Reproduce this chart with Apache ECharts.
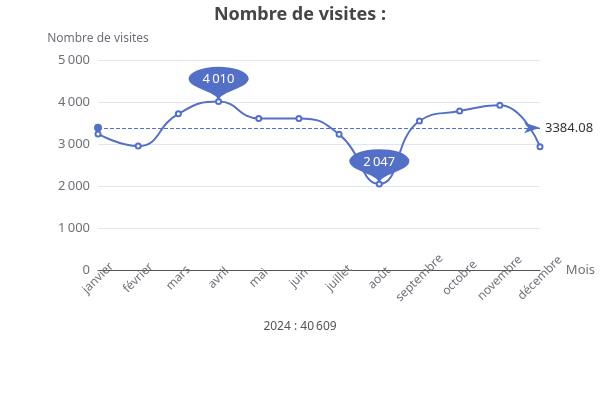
<!DOCTYPE html>
<html>
<head>
<meta charset="utf-8">
<script src="https://cdn.jsdelivr.net/npm/echarts@6/dist/echarts.min.js"></script>
<style>html,body{margin:0;padding:0;background:#fff}#c{width:600px;height:400px}</style>
</head>
<body>
<div id="c"></div>
<script>
const months = ['janvier','février','mars','avril','mai','juin','juillet','août','septembre','octobre','novembre','décembre'];
const visits = [3240, 2950, 3720, 4010, 3610, 3610, 3230, 2047, 3548, 3786, 3921, 2937];
const yearLabel = '2024';
const yTicks = {min: 0, max: 5000, interval: 1000};

const fr = v => Number(v).toLocaleString('fr-FR');
const total = visits.reduce((a, b) => a + b, 0);
const FONT = 'Noto Sans';

const chart = echarts.init(document.getElementById('c'));
chart.setOption({
  animation: false,
  textStyle: {fontFamily: FONT},
  title: [
    {text: 'Nombre de visites :', left: 'center', top: 1,
     textStyle: {fontSize: 18, fontWeight: 'bold', color: '#464646', fontFamily: FONT}},
    {text: yearLabel + ' : ' + fr(total), left: 'center', top: 316,
     textStyle: {fontSize: 12, fontWeight: 'normal', color: '#555', fontFamily: FONT}}
  ],
  grid: {left: 98, right: 60, top: 60, bottom: 130},
  xAxis: {
    type: 'category', data: months, boundaryGap: false, name: 'Mois',
    nameTextStyle: {fontSize: 13, color: '#6e7079'},
    axisTick: {show: false},
    axisLabel: {rotate: 45, align: 'center', verticalAlign: 'middle', margin: 8, fontSize: 12, color: '#6e7079', interval: 0}
  },
  yAxis: {
    type: 'value', min: yTicks.min, max: yTicks.max, interval: yTicks.interval,
    name: 'Nombre de visites',
    nameTextStyle: {fontSize: 12, color: '#6e7079'},
    axisLabel: {fontSize: 13, color: '#6e7079', formatter: v => fr(v)},
    splitLine: {lineStyle: {color: '#E0E6F1'}}
  },
  series: [{
    type: 'line', data: visits, smooth: true,
    symbol: 'emptyCircle', symbolSize: 5,
    itemStyle: {color: '#5470c6'},
    lineStyle: {width: 2},
    markPoint: {
      symbolSize: [100, 40],
      label: {color: '#fff', fontSize: 13, formatter: p => fr(p.value), offset: [0, -1]},
      data: [{type: 'max'}, {type: 'min'}]
    },
    markLine: {
      lineStyle: {color: '#5470c6'},
      label: {color: '#333', fontSize: 13, formatter: p => p.value.toFixed(2)},
      data: [{type: 'average'}]
    }
  }]
});
</script>
</body>
</html>
